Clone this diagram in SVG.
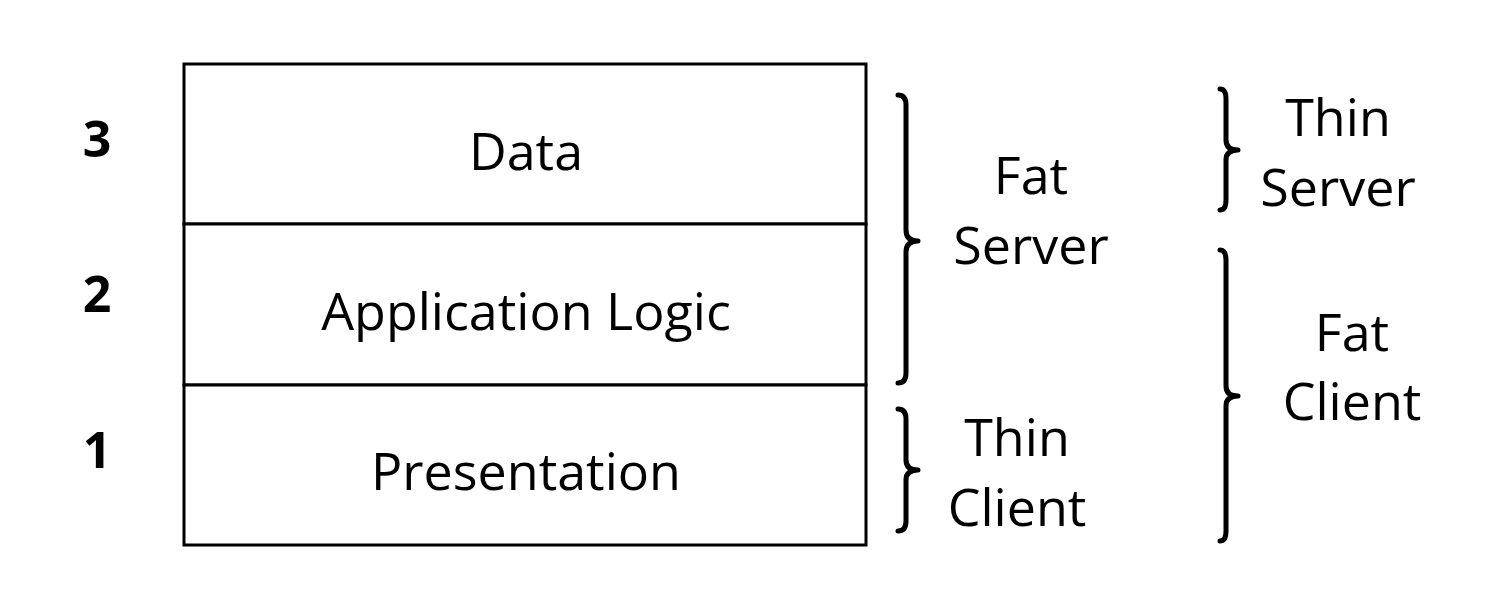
<svg xmlns="http://www.w3.org/2000/svg" width="1490" height="591" viewBox="0 0 1490 591">
<style>
.t{font-family:"Open Sans","Noto Sans",sans-serif;font-size:52px;fill:#000;text-anchor:middle}
.n{font-family:"Open Sans","Noto Sans",sans-serif;font-size:50px;font-weight:bold;fill:#000;text-anchor:middle}
.box{fill:#fff;stroke:#000;stroke-width:3}
.br{fill:none;stroke:#000;stroke-width:5;stroke-linecap:round;stroke-linejoin:round}
</style>
<rect width="1490" height="591" fill="#fff"/>
<g id="layer-data">
<rect class="box" x="184" y="64" width="682" height="160"/>
<text class="t" x="526" y="170">Data</text>
<text class="n" x="97" y="157">3</text>
</g>
<g id="layer-app">
<rect class="box" x="184" y="224" width="682" height="161"/>
<text class="t" x="526" y="330">Application Logic</text>
<text class="n" x="97" y="312">2</text>
</g>
<g id="layer-pres">
<rect class="box" x="184" y="385" width="682" height="160"/>
<text class="t" x="526" y="490">Presentation</text>
<text class="n" x="97" y="468">1</text>
</g>
<g id="brace-fat-server">
<path class="br" d="M898,95 Q906,95 906,105 L906,230 Q906,241 918,241 Q906,241 906,252 L906,373 Q906,383 898,383"/>
<text class="t" x="1031" y="194">Fat</text>
<text class="t" x="1031" y="264">Server</text>
</g>
<g id="brace-thin-client">
<path class="br" d="M898,409 Q906,409 906,419 L906,460 Q906,470 918,470 Q906,470 906,480 L906,521 Q906,531 898,531"/>
<text class="t" x="1017" y="456">Thin</text>
<text class="t" x="1017" y="526">Client</text>
</g>
<g id="brace-thin-server">
<path class="br" d="M1220,89 Q1226,89 1226,99 L1226,140 Q1226,150 1238,150 Q1226,150 1226,160 L1226,200 Q1226,210 1220,210"/>
<text class="t" x="1338" y="136">Thin</text>
<text class="t" x="1338" y="206">Server</text>
</g>
<g id="brace-fat-client">
<path class="br" d="M1220,250 Q1226,250 1226,260 L1226,386 Q1226,396 1238,396 Q1226,396 1226,406 L1226,531 Q1226,541 1220,541"/>
<text class="t" x="1352" y="351">Fat</text>
<text class="t" x="1352" y="420">Client</text>
</g>
</svg>
